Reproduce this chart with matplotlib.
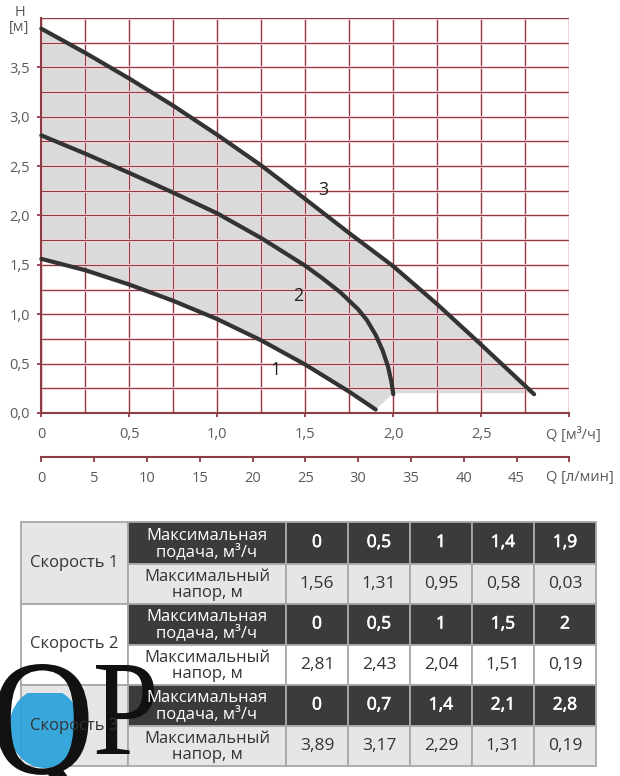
import matplotlib
matplotlib.use('Agg')
import matplotlib.pyplot as plt
import matplotlib.patheffects as pe
from matplotlib.patches import Rectangle, Ellipse, PathPatch
from matplotlib.textpath import TextPath
from matplotlib.font_manager import FontProperties
from matplotlib.transforms import Affine2D
from matplotlib.ticker import MultipleLocator

plt.rcParams['font.family'] = ['Open Sans', 'DejaVu Sans']

# pump curves (Q in m3/h, H in m)
q_speed1 = [0, 0.25, 0.5, 0.75, 1.0, 1.25, 1.5, 1.75, 1.9]
h_speed1 = [1.56, 1.445, 1.30, 1.135, 0.95, 0.735, 0.49, 0.215, 0.035]
q_speed2 = [0, 0.25, 0.5, 0.75, 1.0, 1.25, 1.5, 1.6, 1.7, 1.8, 1.85, 1.9, 1.94, 1.97, 1.99, 2.0]
h_speed2 = [2.81, 2.625, 2.43, 2.23, 2.02, 1.77, 1.49, 1.36, 1.22, 1.05, 0.94, 0.79, 0.63, 0.47, 0.31, 0.19]
q_speed3 = [0, 0.25, 0.5, 0.75, 1.0, 1.25, 1.5, 1.75, 2.0, 2.25, 2.5, 2.8]
h_speed3 = [3.89, 3.645, 3.385, 3.11, 2.815, 2.505, 2.165, 1.82, 1.485, 1.10, 0.69, 0.19]
# lower edge of the grey working area between curve 3 end and curve 1 end
q_area_floor = [2.8, 2.0, 1.9]
h_area_floor = [0.2, 0.2, 0.035]

curve_names = ['1', '2', '3']
curve_label_q = [1.33, 1.46, 1.60]
curve_label_h = [0.44, 1.18, 2.26]

x_ticks_m3 = [0, 0.5, 1.0, 1.5, 2.0, 2.5, 3.0]
x_labels_m3 = ['0', '0,5', '1,0', '1,5', '2,0', '2,5', '']
y_ticks = [0, 0.5, 1.0, 1.5, 2.0, 2.5, 3.0, 3.5]
y_labels = ['0,0', '0,5', '1,0', '1,5', '2,0', '2,5', '3,0', '3,5']
x_ticks_lmin = [0, 5, 10, 15, 20, 25, 30, 35, 40, 45, 50]
x_labels_lmin = ['0', '5', '10', '15', '20', '25', '30', '35', '40', '45', '']

# table
speed_names = ['Скорость 1', 'Скорость 2', 'Скорость 3']
flow_title = 'Максимальная\nподача, м³/ч'
head_title = 'Максимальный\nнапор, м'
flow_1 = [0, 0.5, 1, 1.4, 1.9]
head_1 = [1.56, 1.31, 0.95, 0.58, 0.03]
flow_2 = [0, 0.5, 1, 1.5, 2]
head_2 = [2.81, 2.43, 2.04, 1.51, 0.19]
flow_3 = [0, 0.7, 1.4, 2.1, 2.8]
head_3 = [3.89, 3.17, 2.29, 1.31, 0.19]

GRID = '#8f3d45'
HALO = '#fbe4e6'
LABEL = '#5a5a5a'
CURVE = '#333333'
DARK = '#3b3b3b'
LIGHT = '#e6e6e6'
BORDER = '#a8a8a8'

W, H = 620, 776
fig = plt.figure(figsize=(W / 100, H / 100), dpi=100)

l, r, top, bot = 41.3, 569.3, 17.8, 413.0
ax = fig.add_axes([l / W, 1 - bot / H, (r - l) / W, (bot - top) / H])
ax.set_xlim(0, 3.0)
ax.set_ylim(0, 4.0)

# grey working area
area_q = q_speed3 + q_area_floor + q_speed1[::-1]
area_h = h_speed3 + h_area_floor + h_speed1[::-1]
ax.fill(area_q, area_h, color='#dadada', lw=0, zorder=1)

ax.xaxis.set_minor_locator(MultipleLocator(0.25))
ax.yaxis.set_minor_locator(MultipleLocator(0.25))
ax.grid(which='both', color=GRID, lw=0.8, zorder=2,
        path_effects=[pe.withStroke(linewidth=2.0, foreground=HALO), pe.Normal()])
ax.set_axisbelow(False)
for s in ['top', 'right']:
    ax.spines[s].set_visible(False)
for s in ['left', 'bottom']:
    ax.spines[s].set_color(GRID)
    ax.spines[s].set_linewidth(1.5)
    ax.spines[s].set_zorder(3)
ax.set_xticks(x_ticks_m3)
ax.set_xticklabels(x_labels_m3)
ax.set_yticks(y_ticks)
ax.set_yticklabels(y_labels)
ax.tick_params(which='major', length=3.2, width=1.3, color=GRID, labelcolor=LABEL,
               labelsize=10.5)
ax.tick_params(axis='x', pad=7)
ax.tick_params(axis='y', pad=5)
ax.tick_params(which='minor', length=0)
ax.set_facecolor('white')

for q, h in [(q_speed1, h_speed1), (q_speed2, h_speed2), (q_speed3, h_speed3)]:
    ax.plot(q, h, color=CURVE, lw=3.0, solid_capstyle='round', solid_joinstyle='round',
            zorder=4, clip_on=False)
for name, q, h in zip(curve_names, curve_label_q, curve_label_h):
    ax.text(q, h, name, fontsize=13, color='#222222', ha='center', va='center', zorder=5)

# second flow scale in l/min
y2 = 457.3
ax2 = fig.add_axes([l / W, 1 - y2 / H, (r - l) / W, 0.0005])
ax2.set_xlim(0, 50)
ax2.set_yticks([])
for s in ['top', 'right', 'left']:
    ax2.spines[s].set_visible(False)
ax2.spines['bottom'].set_color(GRID)
ax2.spines['bottom'].set_linewidth(1.5)
ax2.patch.set_alpha(0)
ax2.set_xticks(x_ticks_lmin)
ax2.set_xticklabels(x_labels_lmin)
ax2.tick_params(axis='x', length=3.6, width=1.3, color=GRID, labelcolor=LABEL,
                labelsize=10.5, pad=6)

# overlay in pixel coords for table, labels and logo
ov = fig.add_axes([0, 0, 1, 1])
ov.set_xlim(0, W)
ov.set_ylim(H, 0)
ov.axis('off')
ov.patch.set_alpha(0)

ov.text(20, 13, 'H', fontsize=10.5, color=LABEL, ha='center', va='center')
ov.text(19.5, 27, '[м]', fontsize=10.5, color=LABEL, ha='center', va='center')
ov.text(545.5, 435, 'Q [м³/ч]', fontsize=10.5, color=LABEL, ha='left', va='center')
ov.text(545.5, 478, 'Q [л/мин]', fontsize=10.5, color=LABEL, ha='left', va='center')


def fmt(v):
    return f'{v:g}'.replace('.', ',')


col_x = [21, 128, 286, 348, 410, 472, 534, 596]
row_y = [522, 564, 604, 645, 685, 726, 766]
groups = [(flow_1, head_1), (flow_2, head_2), (flow_3, head_3)]
group_fill = [LIGHT, 'white', LIGHT]
bolder = [pe.withStroke(linewidth=0.45, foreground='white')]

for g, (flows, heads) in enumerate(groups):
    ya, yb, yc = row_y[2 * g], row_y[2 * g + 1], row_y[2 * g + 2]
    ov.add_patch(Rectangle((col_x[0], ya), col_x[1] - col_x[0], yc - ya,
                           facecolor=group_fill[g], edgecolor=BORDER, lw=1.3))
    ov.text((col_x[0] + col_x[1]) / 2, (ya + yc) / 2, speed_names[g], fontsize=12,
            color='#333333', ha='center', va='center')
    rows = [(ya, yb, DARK, 'white', flow_title, flows, bolder),
            (yb, yc, group_fill[g], '#333333', head_title, heads, None)]
    for y0, y1, fc, tc, title, vals, effects in rows:
        for c in range(1, 7):
            ov.add_patch(Rectangle((col_x[c], y0), col_x[c + 1] - col_x[c], y1 - y0,
                                   facecolor=fc, edgecolor=BORDER, lw=1.3))
        ov.text((col_x[1] + col_x[2]) / 2, (y0 + y1) / 2 + 1, title, fontsize=12,
                color=tc, ha='center', va='center', linespacing=0.95)
        for c, v in enumerate(vals):
            ov.text((col_x[c + 2] + col_x[c + 3]) / 2, (y0 + y1) / 2, fmt(v), fontsize=12.5,
                    color=tc, ha='center', va='center', path_effects=effects)


# QP logo watermark
def glyph(ch, x0, x1, y0, y1):
    tp = TextPath((0, 0), ch, size=100, prop=FontProperties(family='Liberation Serif'))
    bb = tp.get_extents()
    tr = (Affine2D().translate(-bb.x0, -bb.y1)
          .scale((x1 - x0) / bb.width, -(y1 - y0) / bb.height)
          .translate(x0, y0))
    return PathPatch(tr.transform_path(tp), facecolor='#111111', edgecolor='none')


water = Ellipse((45, 728), 72, 80, facecolor='#2aa2db', edgecolor='none', alpha=0.93)
ov.add_patch(water)
water.set_clip_path(Rectangle((0, 693), 200, 90, transform=ov.transData))
ov.add_patch(glyph('Q', -4, 92, 664, 800))
ov.add_patch(glyph('P', 96, 154, 665, 754))

fig.savefig('out.png', dpi=100)
